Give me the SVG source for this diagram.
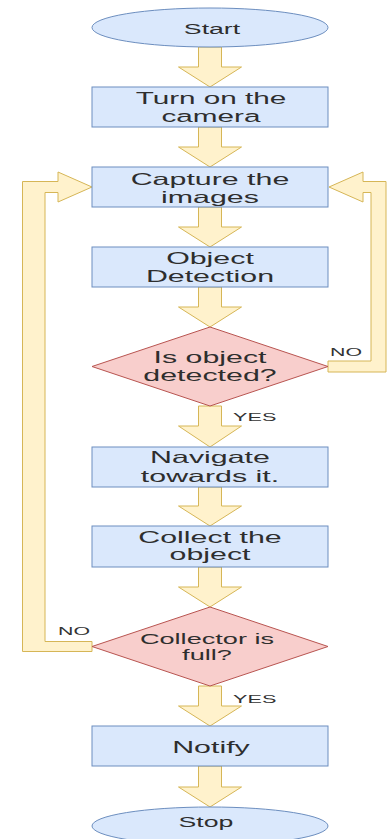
<svg xmlns="http://www.w3.org/2000/svg" width="388" height="839" viewBox="0 0 388 839">
  <style>
    .proc { fill: #dae8fc; stroke: #6c8ebf; stroke-width: 1; }
    .dec { fill: #f8cecc; stroke: #b85450; stroke-width: 1; }
    .flow { fill: #fff2cc; stroke: #d6b656; stroke-width: 1; stroke-linejoin: miter; }
    .t { font-family: "Liberation Sans", Arial, sans-serif; font-size: 16.5px; fill: #2e2e2e; text-anchor: middle; }
    .te { font-family: "Liberation Sans", Arial, sans-serif; font-size: 15.5px; fill: #2e2e2e; text-anchor: middle; }
    .ts { font-family: "Liberation Sans", Arial, sans-serif; font-size: 15px; fill: #2e2e2e; text-anchor: middle; }
    .lbl { font-family: "Liberation Sans", Arial, sans-serif; font-size: 11px; fill: #333333; text-anchor: start; }
  </style>
  <rect width="388" height="839" fill="#ffffff"/>

  <!-- block-arrow connectors -->
  <g id="connectors">
    <path class="flow" d="M198.5,47 H221.5 V67 H241.5 L210,87 L178.5,67 H198.5 Z"/>
    <path class="flow" d="M198.5,127 H221.5 V147 H241.5 L210,167 L178.5,147 H198.5 Z"/>
    <path class="flow" d="M198.5,207 H221.5 V227 H241.5 L210,247 L178.5,227 H198.5 Z"/>
    <path class="flow" d="M198.5,287 H221.5 V307 H241.5 L210,327 L178.5,307 H198.5 Z"/>
    <path class="flow" d="M198.5,406 H221.5 V426 H241.5 L210,447 L178.5,426 H198.5 Z"/>
    <path class="flow" d="M198.5,487 H221.5 V506 H241.5 L210,526 L178.5,506 H198.5 Z"/>
    <path class="flow" d="M198.5,567 H221.5 V587 H241.5 L210,607 L178.5,587 H198.5 Z"/>
    <path class="flow" d="M198.5,686 H221.5 V706 H241.5 L210,726 L178.5,706 H198.5 Z"/>
    <path class="flow" d="M198.5,766 H221.5 V787 H241.5 L210,807 L178.5,787 H198.5 Z"/>
    <!-- NO loop from "Is object detected?" back to capture -->
    <path class="flow" d="M328,361 H371 V192.5 H363 V202 L329,187 L363,172 V181.5 H386 V372 H328 Z"/>
    <!-- NO loop from "Collector is full?" back to capture -->
    <path class="flow" d="M92,641.5 H45 V192.5 H58 V202 L92,187 L58,172 V181.5 H22.5 V651.5 H92 Z"/>
    <text class="lbl" transform="translate(330,356) scale(1.94,1)">NO</text>
    <text class="lbl" transform="translate(58,635) scale(1.94,1)">NO</text>
    <text class="lbl" transform="translate(233,421) scale(1.97,1)">YES</text>
    <text class="lbl" transform="translate(233,702.5) scale(1.97,1)">YES</text>
  </g>

  <g id="start">
    <ellipse class="proc" cx="210" cy="27.5" rx="118" ry="19.5"/>
    <text class="te" transform="translate(212,34) scale(1.72,1)">Start</text>
  </g>

  <g id="turn-on-camera">
    <rect class="proc" x="92" y="87" width="236" height="40"/>
    <text class="t" transform="translate(211,104) scale(1.8,1)">Turn on the</text>
    <text class="t" transform="translate(211,121.7) scale(1.8,1)">camera</text>
  </g>

  <g id="capture-images">
    <rect class="proc" x="92" y="167" width="236" height="40"/>
    <text class="t" transform="translate(210,184.5) scale(1.84,1)">Capture the</text>
    <text class="t" transform="translate(210,202.5) scale(1.84,1)">images</text>
  </g>

  <g id="object-detection">
    <rect class="proc" x="92" y="247" width="236" height="40"/>
    <text class="t" transform="translate(210,263.5) scale(1.84,1)">Object</text>
    <text class="t" transform="translate(210,281.7) scale(1.84,1)">Detection</text>
  </g>

  <g id="is-object-detected">
    <polygon class="dec" points="210,327 328,366.5 210,406 92,366.5"/>
    <text class="t" transform="translate(210,363.3) scale(1.84,1)">Is object</text>
    <text class="t" transform="translate(210,381) scale(1.84,1)">detected?</text>
  </g>

  <g id="navigate">
    <rect class="proc" x="92" y="447" width="236" height="40"/>
    <text class="t" transform="translate(210,463.3) scale(1.84,1)">Navigate</text>
    <text class="t" transform="translate(210,481.7) scale(1.84,1)">towards it.</text>
  </g>

  <g id="collect-object">
    <rect class="proc" x="92" y="526" width="236" height="41"/>
    <text class="t" transform="translate(210,542.7) scale(1.84,1)">Collect the</text>
    <text class="t" transform="translate(210,560) scale(1.84,1)">object</text>
  </g>

  <g id="collector-full">
    <polygon class="dec" points="210,607 328,646.5 210,686 92,646.5"/>
    <text class="ts" transform="translate(207,644) scale(1.81,1)">Collector is</text>
    <text class="ts" transform="translate(207,660.3) scale(1.81,1)">full?</text>
  </g>

  <g id="notify">
    <rect class="proc" x="92" y="726" width="236" height="40"/>
    <text class="t" transform="translate(211,752.5) scale(1.84,1)">Notify</text>
  </g>

  <g id="stop">
    <ellipse class="proc" cx="210" cy="826" rx="118" ry="19"/>
    <text class="te" transform="translate(206,827) scale(1.72,1)">Stop</text>
  </g>
</svg>
